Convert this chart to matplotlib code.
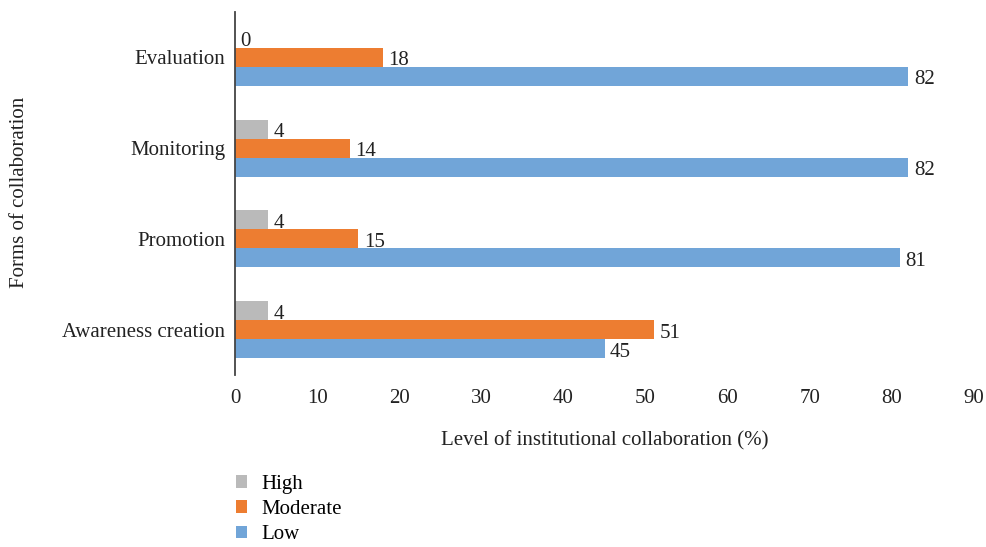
import matplotlib
matplotlib.use("Agg")
import matplotlib.pyplot as plt
import numpy as np
from matplotlib.patches import Patch

categories = ["Awareness creation", "Promotion", "Monitoring", "Evaluation"]
high = [4, 4, 4, 0]
moderate = [51, 15, 14, 18]
low = [45, 81, 82, 82]
series_names = ["High", "Moderate", "Low"]
colors = ["#BABABA", "#ED7D31", "#71A5D8"]
xticks = list(range(0, 100, 10))

plt.rcParams['font.family'] = ['Liberation Serif', 'DejaVu Serif']
FS = 15

fig = plt.figure(figsize=(9.86, 5.47), dpi=100)
ax = fig.add_axes([235/986, 1-375/547, (974-235)/986, (375-12)/547])

y = np.arange(len(categories))
h = 0.21
series = [high, moderate, low]
offsets = [h, 0, -h]
for vals, off, col, name in zip(series, offsets, colors, series_names):
    bars = ax.barh(y + off, vals, height=h, color=col, label=name)
    for b, v in zip(bars, vals):
        ax.annotate(str(v), xy=(b.get_width(), b.get_y() + b.get_height()/2),
                    xytext=(4, -2.5), textcoords='offset points',
                    ha='left', va='center', fontsize=FS, color='#222222')

ax.set_xlim(0, 90)
ax.set_ylim(-0.5, 3.5)
ax.set_xticks(xticks)
ax.set_yticks(y)
ax.set_yticklabels(categories)
ax.tick_params(axis='both', length=0, labelsize=FS, colors='#222222')
ax.tick_params(axis='x', pad=10)
ax.tick_params(axis='y', pad=7)
for s in ['top', 'right', 'bottom']:
    ax.spines[s].set_visible(False)
ax.spines['left'].set_color('#444444')
ax.spines['left'].set_linewidth(1.3)

ax.set_xlabel("Level of institutional collaboration (%)", fontsize=FS, color='#222222', labelpad=17)
fig.text(20/986, 1-192/547, "Forms of collaboration", rotation=90, ha='center', va='center',
         fontsize=FS, color='#222222')

handles = [Patch(facecolor=c, label=n) for c, n in zip(colors, series_names)]
fig.legend(handles=handles, loc='upper left', bbox_to_anchor=(217/986, 1-456/547),
           frameon=False, fontsize=FS, handlelength=0.55, handleheight=0.55,
           handletextpad=0.7, labelspacing=0.3)

fig.savefig("out.png", dpi=100)
